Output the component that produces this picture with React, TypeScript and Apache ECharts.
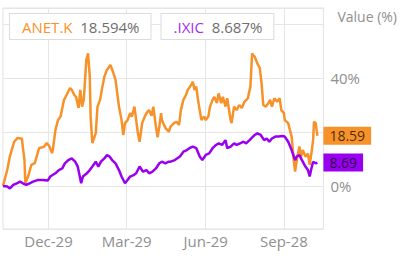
import React, { useEffect, useRef } from 'react';
import * as echarts from 'echarts';

// x axis: one category per calendar day, starting 2019-11-06
const START_DATE = '2019-11-06';
const AXIS_DAYS = 374;
const tickDates = ['2019-12-29', '2020-03-29', '2020-06-29', '2020-09-28'];
const monthNames = ['Jan', 'Feb', 'Mar', 'Apr', 'May', 'Jun', 'Jul', 'Aug', 'Sep', 'Oct', 'Nov', 'Dec'];
// the 20% label is hidden behind the last-value tags in the reference
const yLabelValues = [0, 40];

const seriesNames = ['ANET.K', '.IXIC'];
const seriesColors = ['#F7922A', '#9A00F0'];

// [days since 2019-11-06, % change]
const anetPoints: [number, number][] = [
  [0, 0], [5, 6], [8, 11], [13, 16.4], [17, 17.8], [22, 17.5], [23, 14.6], [25, 9.6], [26, 1],
  [29, 3.3], [33, 7.8], [37, 8.5], [39, 10.7], [42, 14], [48, 14.6], [51, 15.9], [54, 14.6],
  [57, 12.2], [58, 13.3], [61, 20.7], [64, 24.4], [67, 25.7], [71, 31.9], [74, 33.7], [78, 36.3],
  [80, 35.6], [83, 33.7], [85, 33], [88, 28.9], [90, 35.6], [92, 29.4], [94, 31.9], [97, 46.7],
  [99, 49.1], [101, 40.5], [102, 25.7], [104, 15.9], [108, 19.6], [110, 29.4], [113, 31.9],
  [115, 35.6], [118, 40.5], [121, 43], [125, 44.8], [128, 42.3], [131, 39.3], [133, 34.3],
  [135, 29.4], [138, 24.4], [140, 18.9], [142, 23.3], [145, 24.4], [148, 27], [150, 25.7],
  [153, 29.4], [154, 27], [157, 19.6], [159, 16.4], [162, 23.3], [165, 25.7], [167, 27],
  [170, 28.1], [173, 26], [175, 29.4], [178, 22], [180, 18], [182, 22], [184, 27], [185, 24.4],
  [189, 21.5], [193, 20.1], [195, 22], [199, 23.3], [202, 23.8], [205, 22.6], [207, 28.1],
  [210, 31.9], [213, 33.7], [215, 35.6], [219, 37.4], [221, 38.6], [223, 35.6], [225, 36.8],
  [227, 31.9], [229, 28.1], [231, 24.4], [234, 25.7], [236, 24.4], [239, 25.7], [241, 29.4],
  [244, 31.9], [246, 33], [249, 30.7], [251, 34.3], [254, 30.7], [256, 33], [259, 29.4],
  [261, 32.5], [265, 24.4], [266, 23.3], [269, 29.4], [272, 28.1], [275, 30], [278, 28.9],
  [281, 31.2], [285, 32.5], [288, 36.8], [290, 49.1], [291, 48.5], [293, 47.9], [296, 45.4],
  [299, 43.6], [301, 38], [303, 30], [306, 29.4], [309, 30.7], [311, 31.9], [313, 29.4],
  [316, 32.5], [319, 31.2], [322, 32.5], [324, 28.1], [327, 27], [328, 24.4], [332, 23.3],
  [334, 20.7], [336, 18.3], [338, 10.9], [340, 5.3], [342, 9.6], [345, 14.6], [347, 10.9],
  [349, 13.3], [352, 10.9], [355, 12], [357, 7.8], [359, 12.1], [361, 17], [362, 23.8],
  [364, 23.2], [366, 18.594],
];

const ixicPoints: [number, number][] = [
  [0, 0], [5, -0.2], [8, -0.9], [12, 0.4], [16, 1], [20, 1.6], [23, 1], [27, 0.4], [31, 1],
  [35, 1.6], [40, 2.2], [46, 2.2], [52, 2], [55, 3.5], [61, 4.7], [65, 5.9], [69, 6.5], [72, 8.4],
  [76, 9.6], [80, 10.2], [84, 9], [87, 7.2], [91, 1], [93, 3.5], [97, 4.5], [101, 5.9], [104, 7.2],
  [108, 9], [111, 7.2], [114, 9], [118, 10.2], [121, 11.5], [124, 10.9], [127, 9.6], [131, 8.4],
  [135, 5.9], [138, 3.5], [142, 1], [145, 2.2], [148, 3.5], [152, 4], [155, 4.7], [159, 7.2],
  [163, 5.3], [167, 5.9], [170, 4.7], [174, 5.3], [178, 6.5], [182, 8.4], [185, 9], [189, 8.4],
  [193, 9], [195, 9], [200, 9.6], [206, 10.9], [210, 12.7], [214, 13.3], [217, 14], [221, 14.6],
  [225, 14], [229, 10.9], [232, 9.6], [236, 11.5], [240, 12.1], [244, 14], [248, 15.2],
  [251, 15.8], [255, 15.2], [259, 17], [261, 14], [265, 14.6], [269, 15.8], [272, 15.2],
  [276, 15.8], [280, 16.4], [283, 15.8], [287, 17], [291, 18.3], [293, 18.9], [296, 19.5],
  [300, 18.9], [304, 17], [307, 17.6], [310, 16.4], [313, 17.6], [317, 18.3], [321, 18.3],
  [325, 18.5], [328, 18.3], [332, 16.4], [336, 13.3], [340, 9.6], [342, 10.9], [345, 11.5],
  [348, 9.6], [352, 7.2], [355, 5.9], [357, 3.5], [359, 6.5], [361, 9], [364, 8.4], [366, 8.687],
];

const seriesPoints = [anetPoints, ixicPoints];

const FONT = "'Open Sans', sans-serif";

function buildCategories(): string[] {
  const [y, m, d] = START_DATE.split('-').map(Number);
  const out: string[] = [];
  for (let i = 0; i < AXIS_DAYS; i++) {
    out.push(new Date(Date.UTC(y, m - 1, d + i)).toISOString().slice(0, 10));
  }
  return out;
}

export default function App() {
  const ref = useRef<HTMLDivElement>(null);

  useEffect(() => {
    if (!ref.current) return;
    const chart = echarts.init(ref.current, undefined, { renderer: 'svg' });
    const categories = buildCategories();
    const isTick = (_i: number, v: string) => tickDates.includes(v);
    const lastValue = (name: string) => {
      const pts = seriesPoints[seriesNames.indexOf(name)];
      return pts[pts.length - 1][1];
    };

    chart.setOption({
      animation: false,
      grid: {
        left: 3, right: 67, top: 8, bottom: 32,
        show: true, borderColor: '#e2e2e2', borderWidth: 1,
      },
      legend: {
        left: 0, top: 8, itemGap: 5, itemWidth: 0, itemHeight: 27, icon: 'none',
        selectedMode: false,
        data: seriesNames,
        formatter: (name: string) =>
          `{n${seriesNames.indexOf(name)}|${name}}  {v|${lastValue(name).toFixed(3)}%}`,
        textStyle: {
          backgroundColor: '#fff', borderColor: '#dcdcdc', borderWidth: 1,
          padding: [5, 11, 5, 12], fontFamily: FONT, fontSize: 15,
          rich: {
            n0: { color: seriesColors[0], fontFamily: FONT, fontSize: 15 },
            n1: { color: '#A52CF0', fontFamily: FONT, fontSize: 15 },
            v: { color: '#6e6e6e', fontFamily: FONT, fontSize: 15 },
          },
        },
      },
      xAxis: {
        type: 'category',
        data: categories,
        boundaryGap: false,
        axisLine: { show: false },
        axisTick: { show: true, interval: isTick, length: 5, lineStyle: { color: '#e2e2e2' } },
        splitLine: { show: true, interval: isTick, lineStyle: { color: '#e6e6e6' } },
        axisLabel: {
          interval: isTick,
          margin: 4,
          color: '#8f8f8f', fontFamily: FONT, fontSize: 15,
          formatter: (v: string) => {
            const [, m, d] = v.split('-').map(Number);
            return `${monthNames[m - 1]}-${d}`;
          },
        },
      },
      yAxis: {
        type: 'value',
        position: 'right',
        min: -15.93,
        max: 65.93,
        splitNumber: 4,
        axisLine: { show: false },
        axisTick: { show: false },
        splitLine: { lineStyle: { color: '#e6e6e6' } },
        axisLabel: {
          margin: 7, color: '#8f8f8f', fontFamily: FONT, fontSize: 15,
          formatter: (v: number) => (yLabelValues.includes(v) ? `${v}%` : ''),
        },
        name: 'Value (%)',
        nameLocation: 'end',
        nameGap: -8,
        nameTextStyle: {
          align: 'left', verticalAlign: 'middle', padding: [0, 0, 0, 14],
          color: '#8f8f8f', fontFamily: FONT, fontSize: 14,
        },
      },
      series: seriesNames.map((name, i) => ({
        name,
        type: 'line',
        data: seriesPoints[i],
        showSymbol: false,
        color: seriesColors[i],
        lineStyle: { width: 2.5, color: seriesColors[i] },
        endLabel: {
          show: true,
          distance: 6,
          formatter: (p: any) => Number(p.value[1]).toFixed(2),
          backgroundColor: seriesColors[i],
          color: 'rgba(0,0,0,0.72)',
          fontFamily: FONT, fontSize: 14,
          padding: [2, 6, 2, 6],
        },
      })),
    });

    return () => chart.dispose();
  }, []);

  return (
    <div
      ref={ref}
      style={{ position: 'fixed', left: 0, top: 0, width: 400, height: 261, background: '#fff' }}
    />
  );
}
